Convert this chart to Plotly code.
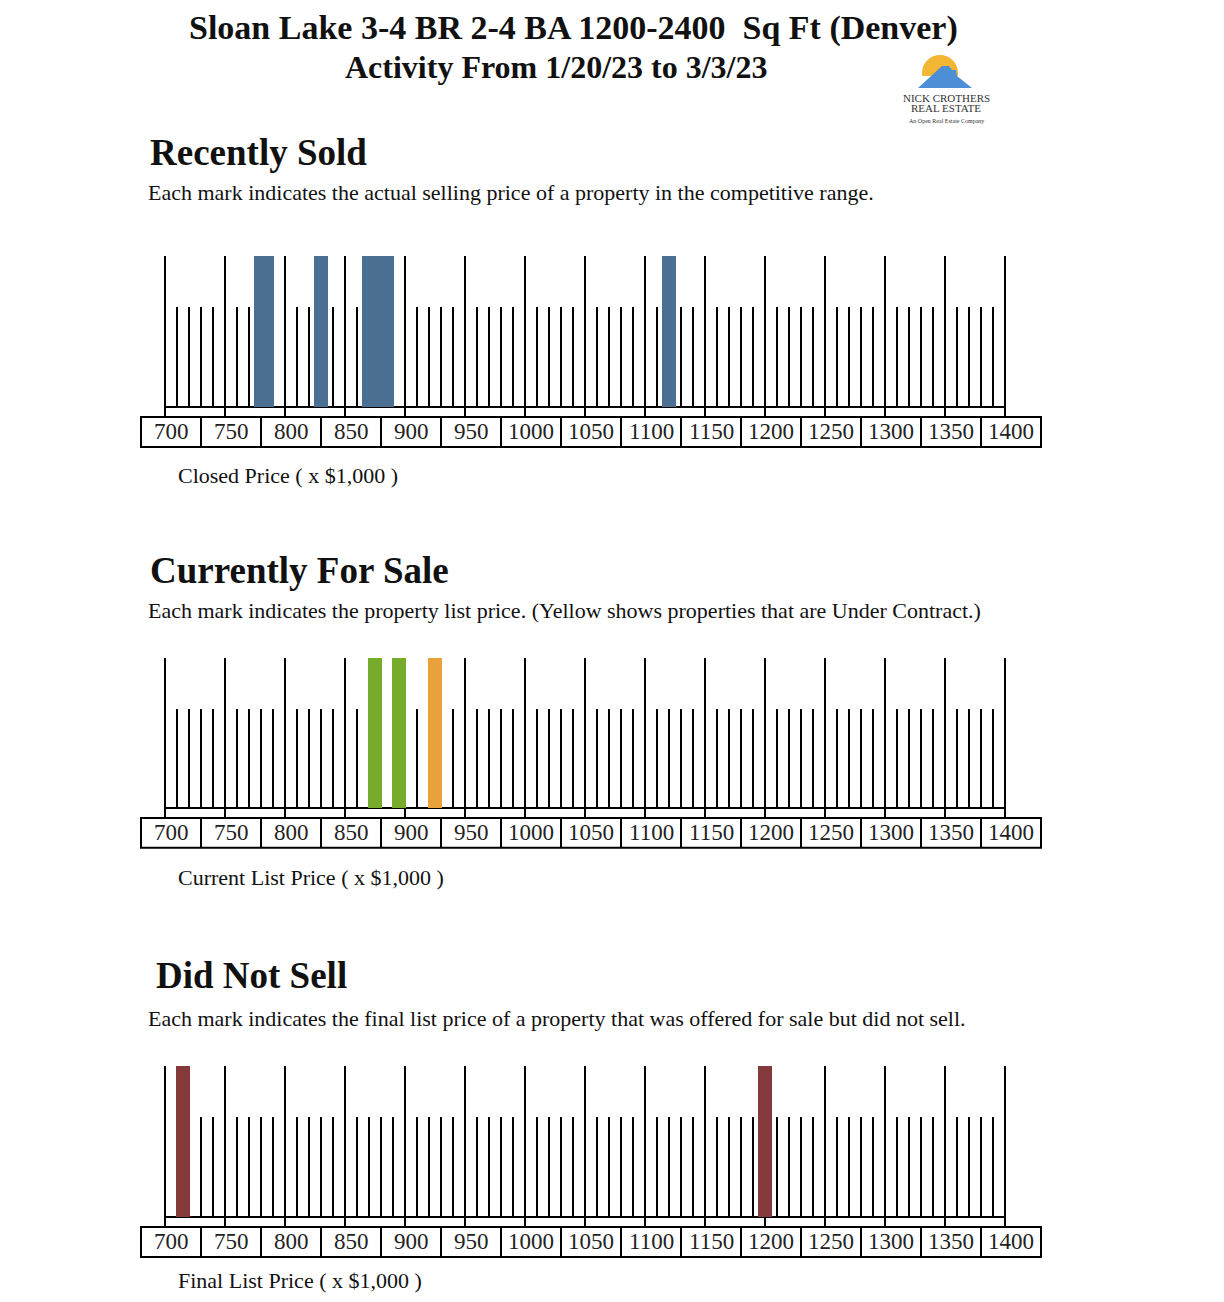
import plotly.graph_objects as go

# ---------------- data ----------------
MAJOR_TICKS = [700, 750, 800, 850, 900, 950, 1000, 1050, 1100, 1150, 1200, 1250, 1300, 1350, 1400]
MINOR_TICKS = [v for v in range(700, 1401, 10) if v % 50 != 0]
TICK_LABELS = [str(v) for v in MAJOR_TICKS]

SOLD_PRICES = [780, 785, 830, 870, 877, 885, 1120]
FOR_SALE_ACTIVE = [875, 895]
FOR_SALE_UNDER_CONTRACT = [925]
NOT_SOLD_PRICES = [715, 1200]

TITLE = "Sloan Lake 3-4 BR 2-4 BA 1200-2400  Sq Ft (Denver)"
SUBTITLE = "Activity From 1/20/23 to 3/3/23"
SECTIONS = ["Recently Sold", "Currently For Sale", "Did Not Sell"]
DESCRIPTIONS = [
    "Each mark indicates the actual selling price of a property in the competitive range.",
    "Each mark indicates the property list price. (Yellow shows properties that are Under Contract.)",
    "Each mark indicates the final list price of a property that was offered for sale but did not sell.",
]
CAPTIONS = ["Closed Price ( x $1,000 )", "Current List Price ( x $1,000 )", "Final List Price ( x $1,000 )"]

# ---------------- styling / layout ----------------
OFF = 8            # body margin of the html page
W, H = 1224 - 2 * OFF, 1302 - 2 * OFF
SERIF = "Liberation Serif, Times New Roman, serif"
BLUE, GREEN, ORANGE, RED = "#4b6f92", "#77ab2b", "#e9a13b", "#843a3b"
MARK_W = 11.6
TICK_W = 1.7
MAJOR_TOP, MAJOR_BOT, MINOR_TOP = 1.0, -0.066, 0.662
BOX_TOP, BOX_BOT = -0.066, -0.265
YR = [-0.3, 1.05]

# x: 700 at page px 165, 1.2 px per unit
def xrange_():
    x0 = 700 - (165 - OFF) / 1.2
    return [x0, x0 + W / 1.2]

def py(p):  # page pixel -> paper y
    return 1 - (p - OFF) / H

def px(p):
    return (p - OFF) / W

PANELS = [(407, 151), (808, 150), (1217, 151)]  # baseline px, unit px

fig = go.Figure()
layout_axes = {}
shapes = []
annotations = []

series_per_panel = [
    [(SOLD_PRICES, BLUE)],
    [(FOR_SALE_ACTIVE, GREEN), (FOR_SALE_UNDER_CONTRACT, ORANGE)],
    [(NOT_SOLD_PRICES, RED)],
]

for i, (base_px, unit_px) in enumerate(PANELS):
    n = i + 1
    xa = "x" if n == 1 else f"x{n}"
    ya = "y" if n == 1 else f"y{n}"
    top_px = base_px - YR[1] * unit_px
    bot_px = base_px - YR[0] * unit_px
    layout_axes[f"xaxis{'' if n == 1 else n}"] = dict(range=xrange_(), domain=[0, 1], visible=False,
                                                     anchor=ya, fixedrange=True)
    layout_axes[f"yaxis{'' if n == 1 else n}"] = dict(range=YR, domain=[py(bot_px), py(top_px)],
                                                     visible=False, anchor=xa, fixedrange=True)
    # major ticks
    fig.add_trace(go.Bar(x=MAJOR_TICKS, y=[MAJOR_TOP - MAJOR_BOT] * len(MAJOR_TICKS),
                         base=[MAJOR_BOT] * len(MAJOR_TICKS), width=TICK_W,
                         marker=dict(color="black", line=dict(width=0)),
                         xaxis=xa, yaxis=ya, hoverinfo="skip"))
    # minor ticks
    fig.add_trace(go.Bar(x=MINOR_TICKS, y=[MINOR_TOP] * len(MINOR_TICKS),
                         base=[0] * len(MINOR_TICKS), width=TICK_W,
                         marker=dict(color="black", line=dict(width=0)),
                         xaxis=xa, yaxis=ya, hoverinfo="skip"))
    # baseline
    fig.add_trace(go.Bar(x=[(MAJOR_TICKS[0] + MAJOR_TICKS[-1]) / 2], y=[0.013], base=[-0.0065],
                         width=MAJOR_TICKS[-1] - MAJOR_TICKS[0],
                         marker=dict(color="black", line=dict(width=0)),
                         xaxis=xa, yaxis=ya, hoverinfo="skip"))
    # price marks
    for prices, color in series_per_panel[i]:
        fig.add_trace(go.Bar(x=prices, y=[MAJOR_TOP] * len(prices), base=[0] * len(prices),
                             width=MARK_W, marker=dict(color=color, line=dict(width=0)),
                             xaxis=xa, yaxis=ya))
    # label boxes
    left = MAJOR_TICKS[0] - 20
    right = MAJOR_TICKS[-1] + 30
    shapes.append(dict(type="rect", xref=xa, yref=ya, x0=left, x1=right, y0=BOX_BOT, y1=BOX_TOP,
                       line=dict(color="black", width=2), layer="above"))
    for m in MAJOR_TICKS[:-1]:
        shapes.append(dict(type="line", xref=xa, yref=ya, x0=m + 30, x1=m + 30, y0=BOX_BOT, y1=BOX_TOP,
                           line=dict(color="black", width=2), layer="above"))
    for m, lab in zip(MAJOR_TICKS, TICK_LABELS):
        annotations.append(dict(x=m + 5, y=(BOX_TOP + BOX_BOT) / 2, xref=xa, yref=ya, text=lab,
                                showarrow=False, font=dict(family=SERIF, size=23, color="#222"),
                                xanchor="center", yanchor="middle"))

# ---------------- texts ----------------
def txt(text, x, y, size, bold=False, xanchor="left", color="#111", yanchor="middle", yp=None):
    t = f"<b>{text}</b>" if bold else text
    annotations.append(dict(x=px(x), y=py(y) if yp is None else yp, xref="paper", yref="paper",
                            text=t, showarrow=False, xanchor=xanchor, yanchor=yanchor, borderpad=0,
                            font=dict(family=SERIF, size=size, color=color)))

txt(TITLE, 573, 0, 34, bold=True, xanchor="center", yanchor="top", yp=1)
txt(SUBTITLE, 556, 67, 32, bold=True, xanchor="center")

sec_y = [(152, 192, 475, 149), (570, 610, 877, 149), (975, 1018, None, 155)]
for (ty, dy, cy, tx), s, d, c in zip(sec_y, SECTIONS, DESCRIPTIONS, CAPTIONS):
    txt(s, tx, ty, 37, bold=True)
    txt(d, 147, dy, 22)
    if cy is None:
        txt(c, 177, 0, 22, yanchor="bottom", yp=0)
    else:
        txt(c, 177, cy, 22)

# ---------------- logo (decoration) ----------------
shapes.append(dict(type="circle", xref="paper", yref="paper",
                   x0=px(922), x1=px(958), y0=py(91), y1=py(55),
                   fillcolor="#f2b632", line=dict(width=0), layer="above"))
shapes.append(dict(type="rect", xref="paper", yref="paper",
                   x0=px(915), x1=px(965), y0=py(92), y1=py(76),
                   fillcolor="white", line=dict(width=0), layer="above"))
shapes.append(dict(type="path", xref="paper", yref="paper",
                   path=(f"M {px(918)} {py(88)} L {px(942)} {py(66)} L {px(949)} {py(66)} "
                         f"L {px(952)} {py(70)} L {px(956)} {py(70)} L {px(957)} {py(76)} "
                         f"L {px(972)} {py(88)} Z"),
                   fillcolor="#4d8fd6", line=dict(width=0), layer="above"))
txt("NICK CROTHERS", 946, 98, 11, xanchor="center", color="#333")
txt("REAL ESTATE", 946, 108, 11, xanchor="center", color="#333")
txt("An Open Real Estate Company", 946, 121, 6, xanchor="center", color="#333")

fig.update_layout(width=W, height=H, margin=dict(l=0, r=0, t=0, b=0),
                  paper_bgcolor="white", plot_bgcolor="rgba(0,0,0,0)",
                  barmode="overlay", bargap=0, showlegend=False,
                  shapes=shapes, annotations=annotations, **layout_axes)

fig.write_html("out.html", config={"displayModeBar": False, "staticPlot": True})
